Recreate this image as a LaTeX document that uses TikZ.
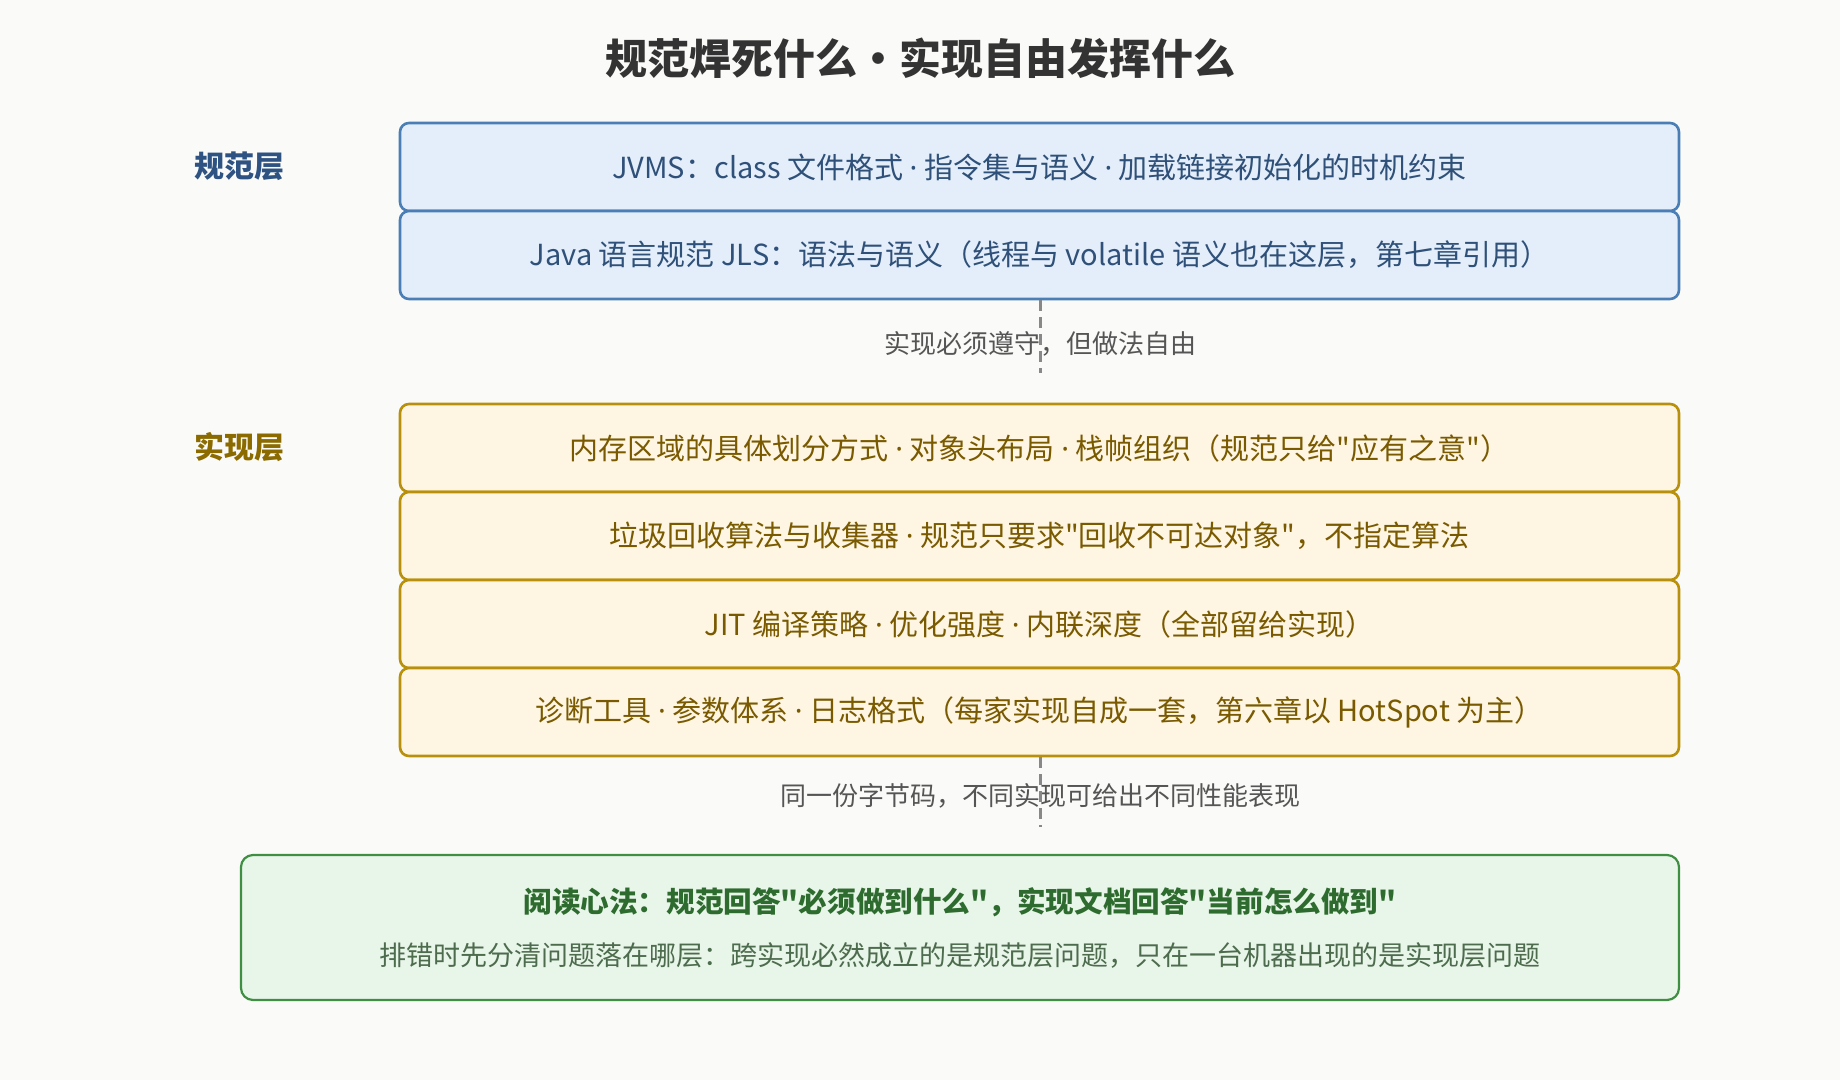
\documentclass[tikz,border=0pt]{standalone}
\usepackage{fontspec}
\setmainfont{Noto Sans CJK SC}
\newfontfamily\latinf{Noto Sans}
\newfontfamily\cjkq{Noto Sans CJK SC}
\definecolor{bgc}{HTML}{FAFAF8}
\definecolor{titlec}{HTML}{333333}
\definecolor{blueb}{HTML}{4A7EB5}
\definecolor{bluef}{HTML}{E3EEFA}
\definecolor{bluet}{HTML}{2F5078}
\definecolor{bluel}{HTML}{2E5382}
\definecolor{yelb}{HTML}{B8900B}
\definecolor{yelf}{HTML}{FEF6E2}
\definecolor{yelt}{HTML}{7A5A00}
\definecolor{yell}{HTML}{8B6A00}
\definecolor{grayl}{HTML}{888888}
\definecolor{grayt}{HTML}{555555}
\definecolor{greenb}{HTML}{3F8F42}
\definecolor{greenf}{HTML}{E8F5E9}
\definecolor{greent}{HTML}{2E6B2E}
\definecolor{greens}{HTML}{4D6B4D}
\newcommand{\fsz}[1]{\fontsize{#1}{#1}\selectfont}
\newcommand{\md}{ {\latinf\char"00B7} }
\newcommand{\dq}{{\cjkq\char34}}
\tikzset{
  specbox/.style={draw=blueb, fill=bluef, line width=2.6pt, rounded corners=9pt,
    minimum width=1279pt, minimum height=88pt, inner sep=0pt, text=bluet, font=\fsz{29}},
  implbox/.style={draw=yelb, fill=yelf, line width=2.6pt, rounded corners=9pt,
    minimum width=1279pt, minimum height=88pt, inner sep=0pt, text=yelt, font=\fsz{29}},
  layerlbl/.style={font=\bfseries\fsz{30}, inner sep=0pt},
  dashline/.style={draw=grayl, line width=3pt, dash pattern=on 11pt off 6pt},
  conlbl/.style={text=grayt, font=\fsz{26}, inner sep=0pt},
}
\begin{document}
\begin{tikzpicture}[x=1pt,y=-1pt]
\fill[bgc] (0,0) rectangle (1840,1080);
\useasboundingbox (0,0) rectangle (1840,1080);

\node[font=\bfseries\fsz{42}, text=titlec, inner sep=0pt] (title) at (920,58) {规范焊死什么・实现自由发挥什么};

\node[layerlbl, text=bluel] (speclbl) at (239,166) {规范层};
\node[layerlbl, text=yell] (impllbl) at (239,447) {实现层};

\node[specbox] (s1) at (1039.5,167) {JVMS：class 文件格式\md 指令集与语义\md 加载链接初始化的时机约束};
\node[specbox] (s2) at (1039.5,255) {Java 语言规范 JLS：语法与语义（线程与 volatile 语义也在这层，第七章引用）};

\node[implbox] (i1) at (1039.5,448) {内存区域的具体划分方式\md 对象头布局\md 栈帧组织（规范只给\dq 应有之意\dq ）};
\node[implbox] (i2) at (1039.5,536) {垃圾回收算法与收集器\md 规范只要求\dq 回收不可达对象\dq ，不指定算法};
\node[implbox] (i3) at (1039.5,624) {JIT 编译策略\md 优化强度\md 内联深度（全部留给实现）};
\node[implbox] (i4) at (1039.5,712) {诊断工具\md 参数体系\md 日志格式（每家实现自成一套，第六章以 HotSpot 为主）};

\coordinate (c1) at (1040,373);
\coordinate (c2) at (1040,827);
\node[conlbl] (l1) at (1040,344) {实现必须遵守，但做法自由};
\node[conlbl] (l2) at (1040,796) {同一份字节码，不同实现可给出不同性能表现};
\draw[dashline] (s2.south -| c1) -- (c1);
\draw[dashline] (i4.south -| c2) -- (c2);

\node[draw=greenb, fill=greenf, line width=2.2pt, rounded corners=12pt,
  minimum width=1438pt, minimum height=145pt, inner sep=0pt] (sum) at (960,927.5) {};
\node[font=\bfseries\fsz{28.6}, text=greent, inner sep=0pt] (sum1) at (960,902) {阅读心法：规范回答\dq 必须做到什么\dq ，实现文档回答\dq 当前怎么做到\dq};
\node[font=\fsz{27}, text=greens, inner sep=0pt] (sum2) at (960,955) {排错时先分清问题落在哪层：跨实现必然成立的是规范层问题，只在一台机器出现的是实现层问题};
\end{tikzpicture}
\end{document}
